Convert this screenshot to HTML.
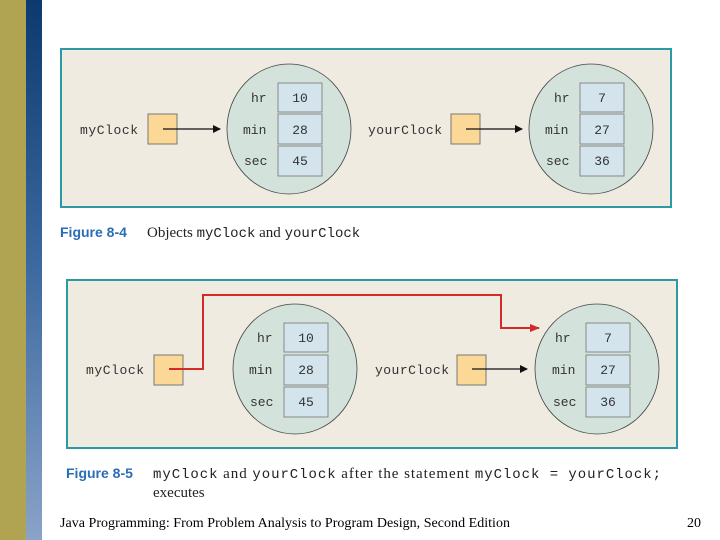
<!DOCTYPE html>
<html><head><meta charset="utf-8"><style>
html,body{margin:0;padding:0;background:#fff;width:720px;height:540px;overflow:hidden}
svg{display:block}
.m{font-family:"Liberation Mono",monospace;font-size:13px;fill:#333}
.v{font-family:"Liberation Mono",monospace;font-size:13px;fill:#333;text-anchor:middle}
.fig{font-family:"Liberation Sans",sans-serif;font-weight:bold;font-size:14px;fill:#2a6db5}
.cap{font-family:"Liberation Serif",serif;font-size:15px;fill:#222}
.cm{font-family:"Liberation Mono",monospace;font-size:14px;fill:#222}
</style></head><body>
<svg width="720" height="540" viewBox="0 0 720 540" xmlns="http://www.w3.org/2000/svg">
<defs>
<linearGradient id="bl" x1="0" y1="0" x2="0" y2="1">
<stop offset="0" stop-color="#0c3a6e"/><stop offset="0.5" stop-color="#3d6aa0"/><stop offset="1" stop-color="#8aa3c8"/>
</linearGradient>
<marker id="ab" markerWidth="8" markerHeight="8" refX="7" refY="4" orient="auto" markerUnits="userSpaceOnUse"><path d="M0,0 L8,4 L0,8 z" fill="#111"/></marker>
<marker id="ar" markerWidth="10" markerHeight="8" refX="9" refY="4" orient="auto" markerUnits="userSpaceOnUse"><path d="M0,0 L10,4 L0,8 z" fill="#d42a2a"/></marker>
</defs>
<rect x="0" y="0" width="26" height="540" fill="#b0a352"/>
<rect x="26" y="0" width="16" height="540" fill="url(#bl)"/>

<!-- Figure 8-4 -->
<rect x="61" y="49" width="610" height="158" fill="#efebe0" stroke="#2b9aa3" stroke-width="2"/>
<g>
<ellipse cx="289" cy="129" rx="62" ry="65" fill="#d3e3dc" stroke="#444" stroke-width="0.8"/>
<rect x="278" y="83" width="44" height="29" fill="#d3e4ec" stroke="#888"/>
<rect x="278" y="114" width="44" height="30" fill="#d3e4ec" stroke="#888"/>
<rect x="278" y="146" width="44" height="30" fill="#d3e4ec" stroke="#888"/>
<text class="m" x="251" y="102">hr</text><text class="m" x="243" y="134">min</text><text class="m" x="244" y="165">sec</text>
<text class="v" x="300" y="102">10</text><text class="v" x="300" y="134">28</text><text class="v" x="300" y="165">45</text>
<text class="m" x="80" y="134" textLength="58">myClock</text>
<rect x="148" y="114" width="29" height="30" fill="#fbd895" stroke="#777"/>
<line x1="163" y1="129" x2="220" y2="129" stroke="#111" stroke-width="1.2" marker-end="url(#ab)"/>

<ellipse cx="591" cy="129" rx="62" ry="65" fill="#d3e3dc" stroke="#444" stroke-width="0.8"/>
<rect x="580" y="83" width="44" height="29" fill="#d3e4ec" stroke="#888"/>
<rect x="580" y="114" width="44" height="30" fill="#d3e4ec" stroke="#888"/>
<rect x="580" y="146" width="44" height="30" fill="#d3e4ec" stroke="#888"/>
<text class="m" x="554" y="102">hr</text><text class="m" x="545" y="134">min</text><text class="m" x="546" y="165">sec</text>
<text class="v" x="602" y="102">7</text><text class="v" x="602" y="134">27</text><text class="v" x="602" y="165">36</text>
<text class="m" x="368" y="134" textLength="74">yourClock</text>
<rect x="451" y="114" width="29" height="30" fill="#fbd895" stroke="#777"/>
<line x1="466" y1="129" x2="522" y2="129" stroke="#111" stroke-width="1.2" marker-end="url(#ab)"/>
</g>
<text x="60" y="237"><tspan class="fig">Figure 8-4</tspan></text>
<text x="147" y="237" class="cap">Objects <tspan class="cm">myClock</tspan> and <tspan class="cm">yourClock</tspan></text>

<!-- Figure 8-5 -->
<rect x="67" y="280" width="610" height="168" fill="#efebe0" stroke="#2b9aa3" stroke-width="2"/>
<ellipse cx="295" cy="369" rx="62" ry="65" fill="#d3e3dc" stroke="#444" stroke-width="0.8"/>
<rect x="284" y="323" width="44" height="29" fill="#d3e4ec" stroke="#888"/>
<rect x="284" y="355" width="44" height="30" fill="#d3e4ec" stroke="#888"/>
<rect x="284" y="387" width="44" height="30" fill="#d3e4ec" stroke="#888"/>
<text class="m" x="257" y="342">hr</text><text class="m" x="249" y="374">min</text><text class="m" x="250" y="406">sec</text>
<text class="v" x="306" y="342">10</text><text class="v" x="306" y="374">28</text><text class="v" x="306" y="406">45</text>
<text class="m" x="86" y="374" textLength="58">myClock</text>
<rect x="154" y="355" width="29" height="30" fill="#fbd895" stroke="#777"/>
<polyline points="169,369 203,369 203,295 501,295 501,328 539,328" fill="none" stroke="#d42a2a" stroke-width="2" marker-end="url(#ar)"/>

<ellipse cx="597" cy="369" rx="62" ry="65" fill="#d3e3dc" stroke="#444" stroke-width="0.8"/>
<rect x="586" y="323" width="44" height="29" fill="#d3e4ec" stroke="#888"/>
<rect x="586" y="355" width="44" height="30" fill="#d3e4ec" stroke="#888"/>
<rect x="586" y="387" width="44" height="30" fill="#d3e4ec" stroke="#888"/>
<text class="m" x="555" y="342">hr</text><text class="m" x="552" y="374">min</text><text class="m" x="553" y="406">sec</text>
<text class="v" x="608" y="342">7</text><text class="v" x="608" y="374">27</text><text class="v" x="608" y="406">36</text>
<text class="m" x="375" y="374" textLength="74">yourClock</text>
<rect x="457" y="355" width="29" height="30" fill="#fbd895" stroke="#777"/>
<line x1="472" y1="369" x2="527" y2="369" stroke="#111" stroke-width="1.2" marker-end="url(#ab)"/>

<text x="66" y="478"><tspan class="fig">Figure 8-5</tspan></text>
<text x="153" y="478" class="cap" textLength="508"><tspan class="cm">myClock</tspan> and <tspan class="cm">yourClock</tspan> after the statement <tspan class="cm">myClock = yourClock;</tspan></text>
<text x="153" y="497" class="cap">executes</text>

<text x="60" y="527" font-family="Liberation Serif,serif" font-size="14" fill="#000" textLength="450">Java Programming: From Problem Analysis to Program Design, Second Edition</text>
<text x="687" y="527" font-family="Liberation Serif,serif" font-size="14" fill="#000">20</text>
</svg>
</body></html>
